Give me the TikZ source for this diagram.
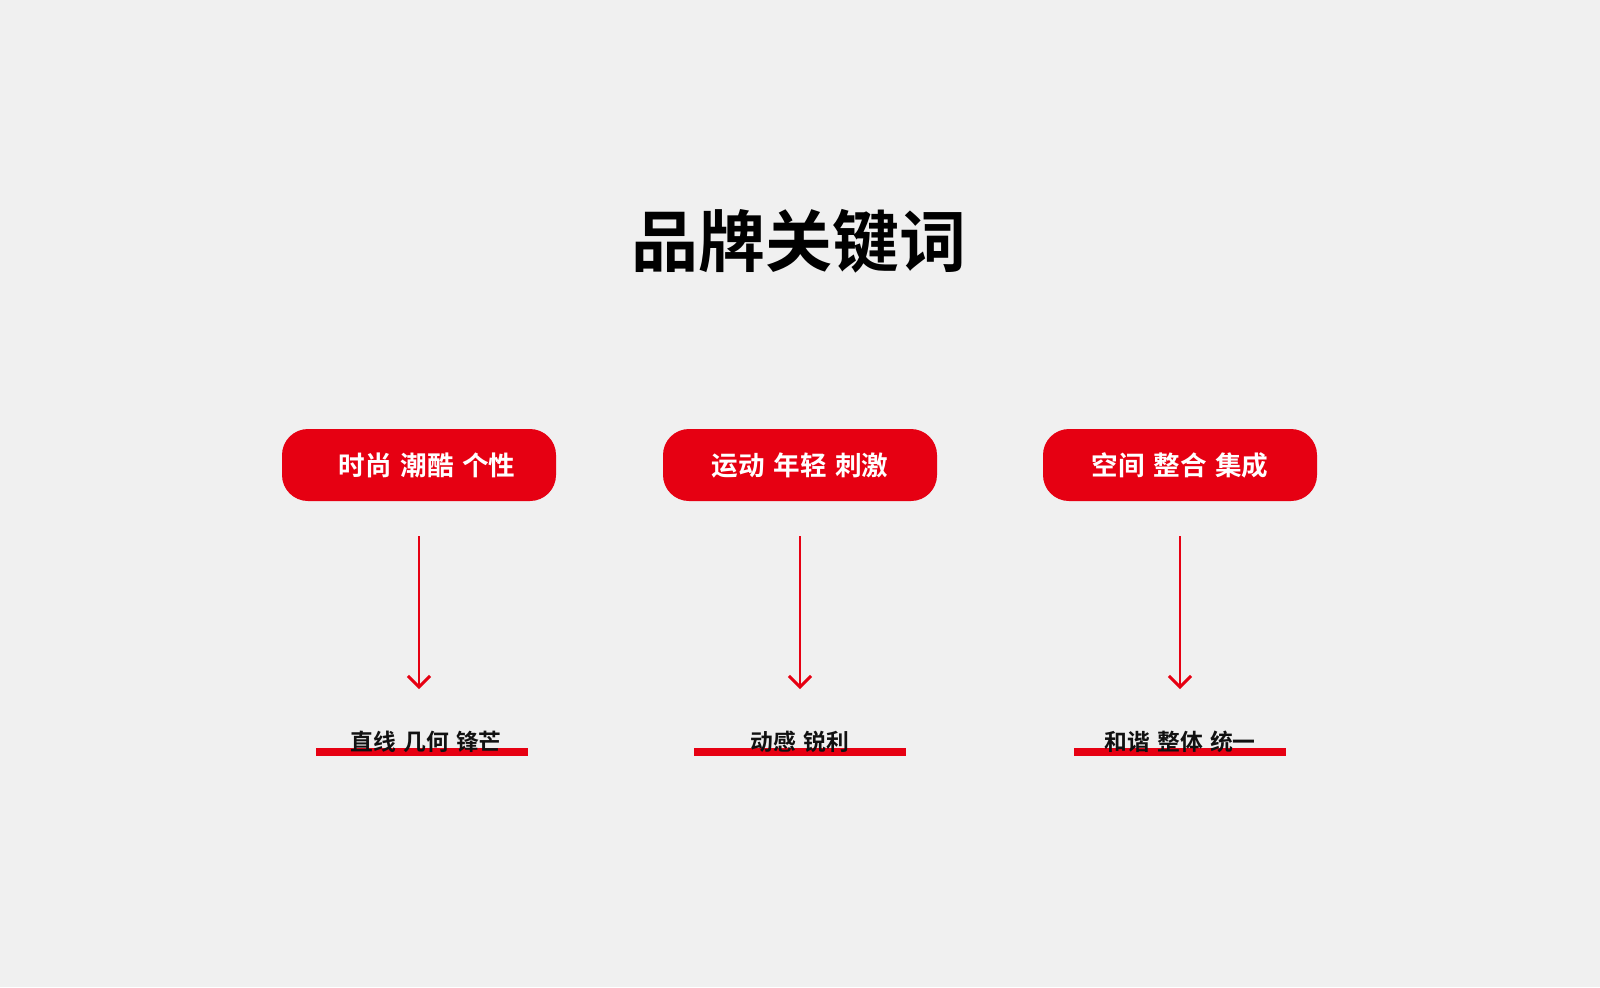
\documentclass[tikz,border=0pt]{standalone}
\usepackage{fontspec}
\newfontfamily\cjk{Noto Sans CJK SC}[BoldFont={Noto Sans CJK SC Bold}]
\usetikzlibrary{arrows.meta}
\definecolor{brandred}{HTML}{E60012}
\definecolor{bggray}{HTML}{F0F0F0}
\definecolor{inkblack}{HTML}{111111}
\newcommand{\gap}{\hspace{0.32em}}
\tikzset{
  pill/.style={fill=brandred, rounded corners=13pt, minimum width=137pt,
    minimum height=36pt, inner sep=0pt, text=white, font=\cjk\bfseries\fontsize{13.3pt}{14pt}\selectfont},
  word/.style={inner sep=0pt, text=inkblack, font=\cjk\bfseries\fontsize{11.4pt}{12pt}\selectfont},
  bar/.style={fill=brandred, minimum width=106pt, minimum height=4pt, inner sep=0pt},
  downarrow/.style={brandred, line width=1pt, -{Straight Barb[length=5.5pt, width=11pt, line width=1.5pt]}}
}
\begin{document}
\begin{tikzpicture}[x=0.5pt, y=-0.5pt]
		\fill[bggray] (0,0) rectangle (1600,987);
		\useasboundingbox (0,0) rectangle (1600,987);
		\node[text=black, font=\cjk\bfseries\fontsize{33.5pt}{36pt}\selectfont] (title) at (799,241) {品牌关键词};
		% keyword pills
		\node[pill] (key1) at (419,465) {\hspace{8pt}时尚\gap 潮酷\gap 个性};
		\node[pill] (key2) at (800,465) {运动\gap 年轻\gap 刺激};
		\node[pill] (key3) at (1180,465) {空间\gap 整合\gap 集成};
		% arrows
		\coordinate (top1) at (419,536);
		\coordinate (tip1) at (419,689);
		\coordinate (top2) at (800,536);
		\coordinate (tip2) at (800,689);
		\coordinate (top3) at (1180,536);
		\coordinate (tip3) at (1180,689);
		\draw[downarrow] (top1) -- (tip1);
		\draw[downarrow] (top2) -- (tip2);
		\draw[downarrow] (top3) -- (tip3);
		% underlined words
		\node[bar] (bar1) at (422,752) {};
		\node[bar] (bar2) at (800,752) {};
		\node[bar] (bar3) at (1180,752) {};
		\node[word] (word1) at (426,742) {直线\gap 几何\gap 锋芒};
		\node[word] (word2) at (800,742) {动感\gap 锐利};
		\node[word] (word3) at (1180,742) {和谐\gap 整体\gap 统一};
	\end{tikzpicture}
\end{document}
